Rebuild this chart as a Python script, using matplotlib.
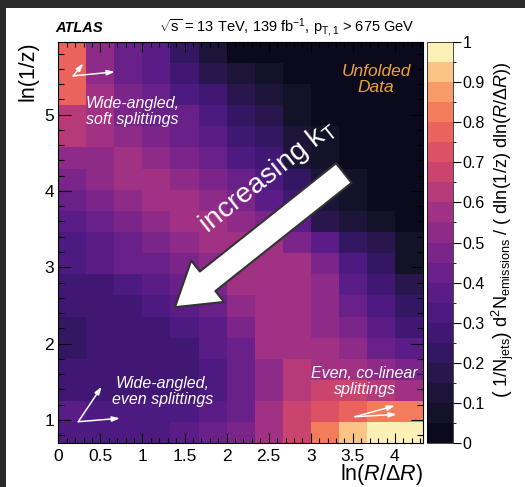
import numpy as np
import matplotlib
matplotlib.use('Agg')
from matplotlib import pyplot as plt
from matplotlib.colors import ListedColormap, BoundaryNorm
from matplotlib.patches import Rectangle

plt.rcParams['font.family'] = ['Liberation Sans', 'DejaVu Sans']
plt.rcParams['mathtext.fontset'] = 'custom'
plt.rcParams['mathtext.rm'] = 'Liberation Sans'
plt.rcParams['mathtext.it'] = 'Liberation Sans:italic'
plt.rcParams['mathtext.bf'] = 'Liberation Sans:bold'
plt.rcParams['mathtext.default'] = 'regular'

# Lund plane binning: ln(R/dR) in 13 bins, ln(1/z) in 19 bins
x_edges = np.linspace(0.0, 13 / 3, 14)
y_edges = np.linspace(np.log(2), 5.955, 20)

# emission density, rows listed from the highest ln(1/z) bin down to the lowest
density_top_down = [
    [0.76, 0.50, 0.42, 0.36, 0.22, 0.10, 0.04, 0.03, 0.02, 0.02, 0.02, 0.02, 0.02],
    [0.77, 0.52, 0.43, 0.38, 0.28, 0.17, 0.10, 0.06, 0.03, 0.02, 0.02, 0.02, 0.02],
    [0.76, 0.56, 0.45, 0.41, 0.32, 0.27, 0.18, 0.10, 0.05, 0.03, 0.02, 0.02, 0.02],
    [0.63, 0.59, 0.48, 0.44, 0.40, 0.32, 0.22, 0.16, 0.08, 0.04, 0.02, 0.02, 0.02],
    [0.61, 0.60, 0.52, 0.47, 0.42, 0.36, 0.30, 0.22, 0.12, 0.06, 0.03, 0.02, 0.02],
    [0.52, 0.54, 0.55, 0.52, 0.47, 0.42, 0.35, 0.27, 0.15, 0.09, 0.04, 0.02, 0.02],
    [0.47, 0.52, 0.57, 0.60, 0.50, 0.47, 0.40, 0.34, 0.22, 0.12, 0.06, 0.03, 0.02],
    [0.42, 0.47, 0.54, 0.57, 0.57, 0.52, 0.45, 0.38, 0.30, 0.15, 0.08, 0.03, 0.02],
    [0.38, 0.43, 0.48, 0.53, 0.58, 0.58, 0.52, 0.45, 0.37, 0.18, 0.10, 0.06, 0.03],
    [0.33, 0.38, 0.43, 0.46, 0.50, 0.56, 0.60, 0.57, 0.48, 0.38, 0.22, 0.16, 0.07],
    [0.32, 0.36, 0.40, 0.42, 0.47, 0.53, 0.58, 0.60, 0.55, 0.45, 0.32, 0.24, 0.08],
    [0.30, 0.30, 0.35, 0.37, 0.42, 0.47, 0.57, 0.60, 0.57, 0.50, 0.36, 0.30, 0.18],
    [0.30, 0.26, 0.28, 0.33, 0.36, 0.42, 0.52, 0.58, 0.58, 0.50, 0.42, 0.35, 0.22],
    [0.24, 0.26, 0.27, 0.28, 0.32, 0.38, 0.47, 0.56, 0.60, 0.53, 0.45, 0.38, 0.30],
    [0.24, 0.27, 0.27, 0.27, 0.30, 0.36, 0.44, 0.55, 0.60, 0.57, 0.50, 0.44, 0.36],
    [0.30, 0.28, 0.28, 0.27, 0.30, 0.34, 0.42, 0.54, 0.62, 0.60, 0.58, 0.53, 0.48],
    [0.30, 0.30, 0.30, 0.30, 0.30, 0.33, 0.42, 0.53, 0.62, 0.65, 0.66, 0.63, 0.60],
    [0.38, 0.33, 0.32, 0.32, 0.32, 0.36, 0.44, 0.56, 0.65, 0.74, 0.78, 0.80, 0.80],
    [0.32, 0.32, 0.32, 0.34, 0.36, 0.42, 0.48, 0.56, 0.69, 0.82, 0.90, 0.97, 0.99],
]
density = np.array(density_top_down[::-1])

palette = ['#0b0a1c', '#141229', '#1d1539', '#29164d', '#341763',
           '#401874', '#4c1a80', '#5a1c86', '#6a2089', '#7b2489',
           '#8e2a87', '#a13182', '#b63a7a', '#ca446e', '#dc5264',
           '#ea635c', '#f27c5c', '#f79b68', '#fbc486', '#fdf0b6']
cmap = ListedColormap(palette)
norm = BoundaryNorm(np.linspace(0, 1, 21), cmap.N)

fig = plt.figure(figsize=(5.25, 4.87), dpi=100)
fig.patch.set_facecolor('#2a2a2a')
fig.patches.append(Rectangle((6 / 525, 0), 1, 1 - 8 / 487, transform=fig.transFigure,
                             facecolor='white', edgecolor='none', zorder=-10))

ax = fig.add_axes([0.1110, 0.0897, 0.6947, 0.8246])
mesh = ax.pcolormesh(x_edges, y_edges, density, cmap=cmap, norm=norm)
ax.set_xlim(x_edges[0], x_edges[-1])
ax.set_ylim(y_edges[0], y_edges[-1])

ax.set_xticks(np.arange(0, 4.01, 0.5))
ax.set_xticklabels(['0', '0.5', '1', '1.5', '2', '2.5', '3', '3.5', '4'])
ax.set_xticks(np.arange(0, 4.34, 0.1), minor=True)
ax.set_yticks([1, 2, 3, 4, 5])
ax.set_yticks(np.arange(0.8, 5.9, 0.2), minor=True)
ax.tick_params(which='both', direction='in', top=True, right=True, labelsize=12.5,
               color='black', width=0.8)
ax.tick_params(axis='x', which='major', length=7, pad=4)
ax.tick_params(axis='x', which='minor', length=3.5)
ax.tick_params(axis='y', which='major', length=9, pad=3)
ax.tick_params(axis='y', which='minor', length=4.5)
for s in ax.spines.values():
    s.set_linewidth(0.8)

ax.set_xlabel(r'ln($\mathit{R}$/$\Delta\mathit{R}$)', fontsize=15.5, loc='right', labelpad=-1)
ax.set_ylabel('ln(1/z)', fontsize=15.5, loc='top', labelpad=4)

cax = fig.add_axes([0.8133, 0.0897, 0.0495, 0.8246])
cbar = fig.colorbar(mesh, cax=cax, ticks=np.arange(0, 1.01, 0.1))
cbar.ax.set_yticklabels(['0', '0.1', '0.2', '0.3', '0.4', '0.5', '0.6', '0.7', '0.8', '0.9', '1'])
cbar.ax.tick_params(length=6, width=0.8, labelsize=11.5, pad=1)
cbar.outline.set_linewidth(0.5)

fig.text(0.958, 0.528,
         r'$\left(\ 1/N_{jets}\right)\ d^2N_{emissions}\ /\ \left(\ dln(1/z)\ dln(\mathit{R}/\Delta \mathit{R})\right)$',
         rotation=90, ha='center', va='center', fontsize=13)

fig.text(0.105, 0.943, 'ATLAS', fontsize=10.5, fontweight='bold', fontstyle='italic',
         ha='left', va='center')
fig.text(0.79, 0.943, r'$\sqrt{s}$ = 13 TeV, 139 fb$^{-1}$, p$_{T,1}$ > 675 GeV',
         fontsize=10.5, ha='right', va='center')

ax.text(0.871, 0.905, 'Unfolded\nData', transform=ax.transAxes, color='#eea236',
        fontsize=12.5, fontstyle='italic', ha='center', va='center', linespacing=1.1)
ax.text(0.203, 0.827, 'Wide-angled,\nsoft splittings', transform=ax.transAxes, color='white',
        fontsize=11.5, fontstyle='italic', ha='center', va='center', linespacing=1.1)
ax.text(0.286, 0.129, 'Wide-angled,\neven splittings', transform=ax.transAxes, color='white',
        fontsize=11.5, fontstyle='italic', ha='center', va='center', linespacing=1.1)
ax.text(0.840, 0.153, 'Even, co-linear\nsplittings', transform=ax.transAxes, color='white',
        fontsize=11.5, fontstyle='italic', ha='center', va='center', linespacing=1.1)

# small direction arrows in the three corners
small = dict(arrowstyle='-|>,head_length=0.45,head_width=0.15', color='white', lw=1.1,
             shrinkA=0, shrinkB=0)
corner_arrows = [
    ((0.041, 0.915), (0.0686, 0.946)),
    ((0.041, 0.915), (0.155, 0.925)),
    ((0.0548, 0.0538), (0.119, 0.141)),
    ((0.0548, 0.0538), (0.169, 0.0623)),
    ((0.8135, 0.0662), (0.923, 0.0936)),
    ((0.8135, 0.0662), (0.928, 0.0722)),
]
for start, end in corner_arrows:
    ax.annotate('', xy=end, xytext=start, xycoords='axes fraction',
                textcoords='axes fraction', arrowprops=small)

# big arrow pointing toward increasing kT
ax.annotate('', xy=(0.320, 0.339), xytext=(0.783, 0.673), xycoords='axes fraction',
            textcoords='axes fraction',
            arrowprops=dict(arrowstyle='simple,head_length=3.0,head_width=3.8,tail_width=1.8',
                            mutation_scale=10, facecolor='white', edgecolor='#333333',
                            lw=1.5, shrinkA=0, shrinkB=0))
ax.text(0.575, 0.664, r'increasing k$_{T}$', transform=ax.transAxes, color='white',
        fontsize=20.5, rotation=38.4, rotation_mode='anchor', ha='center', va='center')

plt.savefig('out.png', dpi=100, facecolor=fig.get_facecolor())
